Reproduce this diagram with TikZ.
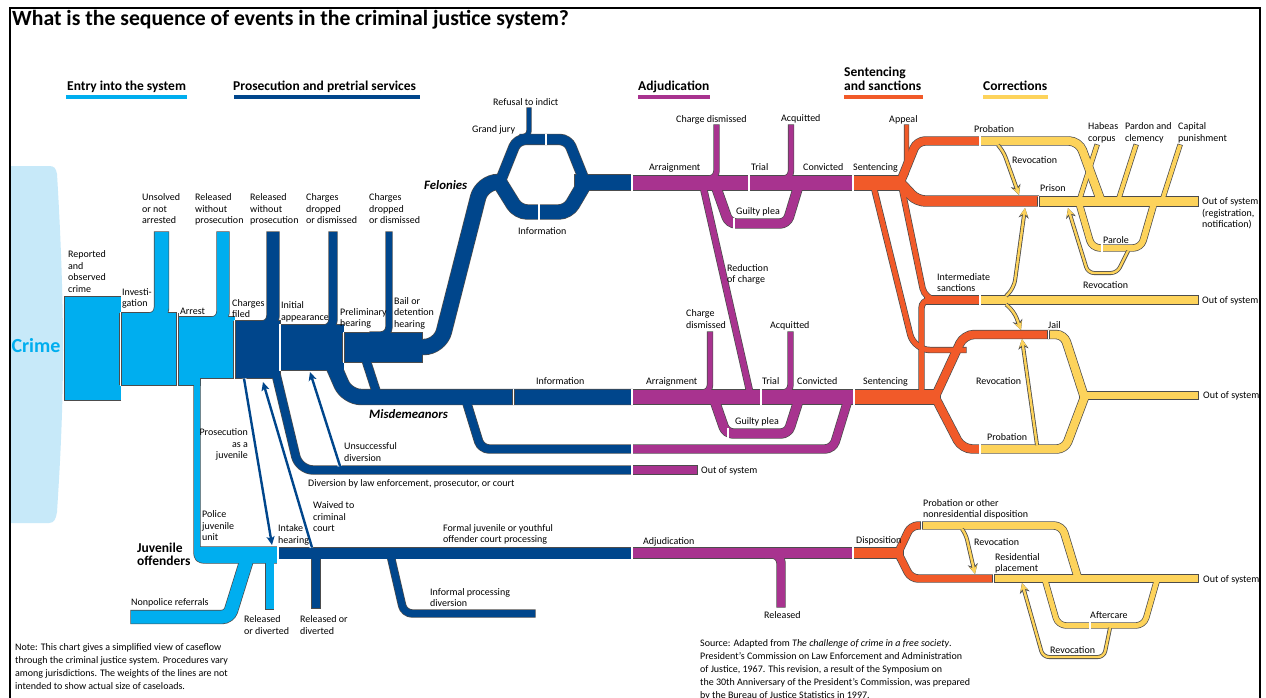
\documentclass[tikz,border=0pt]{standalone}
\usepackage{fontspec}
\setmainfont{Carlito}
\usetikzlibrary{arrows.meta}
\definecolor{cyanb}{RGB}{0,174,239}
\definecolor{navy}{RGB}{0,70,140}
\definecolor{mag}{RGB}{168,51,143}
\definecolor{orng}{RGB}{241,90,41}
\definecolor{yel}{RGB}{253,211,91}
\definecolor{pale}{RGB}{199,233,249}
\colorlet{edgec}{black!70}
\pgfdeclarelayer{bg}
\pgfdeclarelayer{edge}
\pgfsetlayers{bg,edge,main}
\newcommand\band[4][]{%
  \begin{pgfonlayer}{edge}\draw[#1,line width=#2+1.4,draw=edgec,shorten <=-0.7pt,shorten >=-0.7pt] #4;\end{pgfonlayer}%
  \draw[#1,line width=#2,draw=#3] #4;}
\newcommand\blk[2]{%
  \begin{pgfonlayer}{edge}\filldraw[edgec,line width=1.4] #2;\end{pgfonlayer}%
  \fill[#1] #2;}
\newcommand\sepr[3]{\draw[edgec,line width=2.6] (#1,#2)--(#1,#3); \draw[white,line width=1.2] (#1,#2-0.8)--(#1,#3+0.8);}
\tikzset{
  lab/.style={anchor=north west, inner sep=0pt, align=left, font=\fontsize{10}{11.6}\selectfont},
  bl/.style={anchor=base west, inner sep=0pt, font=\fontsize{10}{11.6}\selectfont},
  hdr/.style={anchor=base west, inner sep=0pt, font=\bfseries\fontsize{13.5}{13.5}\selectfont},
  bi/.style={anchor=base west, inner sep=0pt, font=\bfseries\itshape\fontsize{12.8}{12.8}\selectfont},
  yarr/.style={draw=yel, line width=2.4, -{Stealth[length=8pt,width=7.5pt,inset=2.5pt]},
    preaction={draw=edgec, line width=4, -{Stealth[length=10pt,width=10pt,inset=3pt]}}},
  narr/.style={draw=navy, line width=2.4, -{Stealth[length=8.5pt,width=8pt,inset=2pt]},
    preaction={draw=white, line width=4.6, -{Stealth[length=11pt,width=11pt,inset=2.5pt]}}}
}
\newcommand\lbl[4][]{\node[lab,#1] at (#2,#3-8) {\rule{0pt}{8pt}#4};}
\begin{document}
\begin{tikzpicture}[x=1pt,y=-1pt]
\useasboundingbox (0,0) rectangle (1266,698);
\begin{pgfonlayer}{bg}
\fill[white] (0,0) rectangle (1266,698);
\fill[pale] (10,166) -- (49,166) .. controls (54,166) and (56,168) .. (57,174)
  .. controls (61,240) and (63,300) .. (63,350) .. controls (63,420) and (59,480) .. (57,512)
  .. controls (56,519) and (54,523) .. (49,523) -- (10,523) -- cycle;
\end{pgfonlayer}
% frame and title
\draw[line width=1.4] (10,702) -- (10,8) -- (1260,8) -- (1260,702);
\node[anchor=base west, inner sep=0pt, font=\bfseries\fontsize{21.7}{24}\selectfont] (title) at (12,26) {What is the sequence of events in the criminal justice system?};
% headers
\node[hdr] (h1) at (67,90.5) {Entry into the system};
\node[hdr] (h2) at (233,90.5) {Prosecution and pretrial services};
\node[hdr] (h3) at (638,90.5) {Adjudication};
\node[hdr] (h4a) at (844,77) {Sentencing};
\node[hdr] (h4b) at (844,90.5) {and sanctions};
\node[hdr] (h5) at (983,90.5) {Corrections};
\fill[cyanb] (66,95.5) rectangle (187,99.5);
\fill[navy] (234,95.5) rectangle (420,99.5);
\fill[mag] (638,95.5) rectangle (710,99.5);
\fill[orng] (844,95.5) rectangle (923,99.5);
\fill[yel] (983,95.5) rectangle (1048,99.5);
\node[inner sep=0pt, font=\bfseries\fontsize{20}{20}\selectfont, text=cyanb] (crime) at (36,346) {Crime};

% ---------- light blue: entry ----------
\blk{cyanb}{(65,297) rectangle (120.5,400)}
\blk{cyanb}{(120.5,313) rectangle (177.5,385)}
\blk{cyanb}{(177.5,317) rectangle (234.5,378)}
\blk{cyanb}{(177.5,377) rectangle (200,385)}
\band[rounded corners=12]{14}{cyanb}{(161.5,232) -- (161.5,320) -- (135,320)}
\band[rounded corners=11]{12}{cyanb}{(223,232) -- (223,323) -- (200,323)}
\blk{cyanb}{(194,380) -- (194,551) .. controls (194,560) and (197,563) .. (206,563) -- (278,563) -- (278,547) -- (200,547) -- (200,380) -- cycle}
\band[rounded corners=7]{13}{cyanb}{(131,617) -- (229,617) -- (248,556)}
\band{8}{cyanb}{(269.5,560) -- (269.5,609)}

% ---------- dark blue: prosecution ----------
\blk{navy}{(234.5,321) rectangle (280,378)}
\band[rounded corners=11]{12}{navy}{(273,232) -- (273,327) -- (250,327)}
\blk{navy}{(280,325) rectangle (343.5,370)}
\band[rounded corners=9]{8}{navy}{(333,232) -- (333,329) -- (310,329)}
\blk{navy}{(343.5,333) rectangle (422,362)}
\band[rounded corners=8]{6}{navy}{(389,232) -- (389,335) -- (370,335)}
\band[rounded corners=16]{15}{navy}{(400,347) -- (440,347) -- (482,182) -- (506,182)}
\band[rounded corners=8]{10}{navy}{(500,182) -- (517,139.5) -- (568,139.5) -- (585,182)}
\band[rounded corners=9]{14}{navy}{(500,183) -- (518,212) -- (568,212) -- (585,183)}
\band{15}{navy}{(575,182.5) -- (632,182.5)}
\band[rounded corners=6]{4}{navy}{(529,108) -- (529,136.5) -- (520,136.5)}
\band[rounded corners=14]{15}{navy}{(330,358) -- (347,397) -- (632,397)}
\band{8}{navy}{(366,360) -- (377,394)}
\band[rounded corners=8]{8}{navy}{(465,397) -- (481,449) -- (632,449)}
\band[rounded corners=14]{8}{navy}{(276,374) -- (299,470) -- (632,470)}
\band{11}{navy}{(278,553) -- (632,553)}
\band{8}{navy}{(316,553) -- (316,608)}
\band[rounded corners=8]{7}{navy}{(390,553) -- (404,613.5) -- (535,613.5)}

% ---------- magenta: adjudication ----------
\band{14}{mag}{(632,183) -- (853,183)}
\band[rounded corners=7.5]{5}{mag}{(716.5,125) -- (716.5,178.5) -- (700,178.5)}
\band[rounded corners=7.5]{5}{mag}{(791,125) -- (791,178.5) -- (775,178.5)}
\band[rounded corners=7]{9}{mag}{(715,184) -- (729,223.5) -- (787,223.5) -- (799,184)}
\band{6}{mag}{(703,186) -- (750,393)}
\band{14}{mag}{(632,397) -- (854,397)}
\band[rounded corners=7.5]{5}{mag}{(710,332) -- (710,392.5) -- (695,392.5)}
\band[rounded corners=7.5]{5}{mag}{(790.5,332) -- (790.5,392.5) -- (775,392.5)}
\band[rounded corners=7]{9}{mag}{(714,399) -- (726,433.5) -- (788,433.5) -- (799,399)}
\band[rounded corners=8]{8}{mag}{(632,449) -- (833,449) -- (848,400)}
\band{8}{mag}{(632,470) -- (697,470)}
\band{10}{mag}{(632,553) -- (853,553)}
\band[rounded corners=9]{8}{mag}{(765,554) -- (781,554) -- (781,607)}

% ---------- orange: sentencing ----------
\band{14}{orng}{(853,183) -- (905,183)}
\band[rounded corners=7]{4}{orng}{(906.5,125) -- (906.5,178) -- (890,178)}
\band[rounded corners=8]{8}{orng}{(900,183) -- (917,141) -- (980,141)}
\band[rounded corners=8]{10}{orng}{(900,183) -- (917,201) -- (1038.5,201)}
\band[rounded corners=16]{5}{orng}{(873,184) -- (914,350) -- (966,350)}
\band[rounded corners=12]{5}{orng}{(901,184) -- (925,300) -- (950,300)}
\band{8}{orng}{(925,300) -- (980,300)}
\band[rounded corners=8]{5}{orng}{(921.5,397) -- (921.5,300) -- (940,300)}
\band{14}{orng}{(854,397) -- (940,397)}
\band[rounded corners=10]{8}{orng}{(935,397) -- (964,334.5) -- (1048.5,334.5)}
\band[rounded corners=10]{8}{orng}{(935,397) -- (962,449) -- (980,449)}
\band{10}{orng}{(853,553) -- (903,553)}
\band[rounded corners=7]{7}{orng}{(898,553) -- (911,525.5) -- (921.5,525.5)}
\band[rounded corners=7]{7}{orng}{(898,553) -- (911,578.5) -- (993.5,578.5)}

% ---------- yellow: corrections ----------
\band[rounded corners=10]{8}{yel}{(980,141) -- (1079,141) -- (1101,201)}
\band{9}{yel}{(1038.5,201.5) -- (1198,201.5)}
\band{4}{yel}{(1079,201) -- (1097,145)}
\band{4}{yel}{(1118,201) -- (1136,145)}
\band{4}{yel}{(1162,201) -- (1180,145)}
\band[rounded corners=8]{6}{yel}{(1079,203) -- (1092,248) -- (1141,248) -- (1154,203)}
\band{8}{yel}{(980,300) -- (1198,300)}
\band[rounded corners=8]{8}{yel}{(1048.5,334.5) -- (1064,334.5) -- (1084,396)}
\band{7}{yel}{(1080,395.5) -- (1198,395.5)}
\band[rounded corners=8]{8}{yel}{(980,449) -- (1065,449) -- (1085,396)}
\band[rounded corners=8]{7}{yel}{(921.5,525.5) -- (1062,525.5) -- (1078,578)}
\band{7}{yel}{(993.5,578.5) -- (1198,578.5)}
\band[rounded corners=8]{5}{yel}{(1045,580) -- (1058,625.5) -- (1144,625.5) -- (1157,580)}

% ---------- separators ----------
\sepr{120.5}{313}{385}
\sepr{177.5}{313}{385}
\sepr{234.5}{321}{378}
\sepr{280}{325}{370}
\sepr{343.5}{333}{362}
\sepr{546}{134.5}{144.5}
\sepr{539}{205}{219}
\sepr{632}{175}{190}
\sepr{513.5}{389.5}{404.5}
\sepr{632}{389.5}{404.5}
\sepr{632}{445}{453}
\sepr{632}{466}{474}
\sepr{632}{547.5}{558.5}
\sepr{278}{547}{563}
\sepr{749}{176}{190}
\sepr{761}{390}{404}
\sepr{734}{219}{228}
\sepr{728}{429}{438}
\sepr{853}{176}{190}
\sepr{854}{390}{404}
\sepr{853}{548}{558}
\sepr{980}{137}{145}
\sepr{1038.5}{197}{206}
\sepr{980}{296}{304}
\sepr{1048.5}{330.5}{338.5}
\sepr{980}{445}{453}
\sepr{921.5}{522}{529}
\sepr{993.5}{575}{582}
\sepr{1102}{245}{251}
\sepr{1090}{623}{628}

% ---------- arrows ----------
\draw[narr] (244,378.5) -- (272,545);
\draw[narr] (312,547.5) -- (263,382);
\draw[narr] (340,466) -- (310,372);
\draw[yarr, rounded corners=5] (998,145) -- (1004,153) -- (1019,195);
\draw[yarr, rounded corners=6] (1128,251) -- (1117,273) -- (1088,273) -- (1068,208);
\draw[yarr, rounded corners=8] (1006,296) -- (1014,288) -- (1025,208);
\draw[yarr, rounded corners=8] (1006,304.5) -- (1014,311) -- (1021,330);
\draw[yarr] (1037,445) -- (1022,339);
\draw[yarr, rounded corners=5] (962,529) -- (966,535) -- (975,574);
\draw[yarr, rounded corners=6] (1110,628) -- (1104,657) -- (1043,657) -- (1022,583);

% ---------- labels ----------
\lbl{142}{200.5}{Unsolved\\or not\\arrested}
\lbl{195}{200.5}{Released\\without\\prosecution}
\lbl{250}{200.5}{Released\\without\\prosecution}
\lbl{306}{200.5}{Charges\\dropped\\or dismissed}
\lbl{369}{200.5}{Charges\\dropped\\or dismissed}
\lbl{68}{257.5}{Reported\\and\\observed\\crime}
\lbl{122}{295}{Investi-\\gation}
\lbl{180}{314}{Arrest}
\lbl{232}{306}{Charges\\filed}
\lbl{281}{308.5}{Initial\\appearance}
\lbl{340}{315}{Preliminary\\hearing}
\lbl{394}{304}{Bail or\\detention\\hearing}
\lbl{493}{105}{Refusal to indict}
\lbl{472}{132.5}{Grand jury}
\lbl{518}{234.5}{Information}
\lbl{536}{384.5}{Information}
\lbl{344}{449.5}{Unsuccessful\\diversion}
\lbl{308}{486}{Diversion by law enforcement, prosecutor, or court}
\lbl[anchor=north east,align=right]{248}{435.5}{Prosecution\\as a\\juvenile}
\lbl{202}{517.5}{Police\\juvenile\\unit}
\lbl{278}{531.5}{Intake\\hearing}
\lbl{313}{508.5}{Waived to\\criminal\\court}
\lbl{131}{605.5}{Nonpolice referrals}
\lbl{244}{622.5}{Released\\or diverted}
\lbl{300}{622.5}{Released or\\diverted}
\lbl{443}{531}{Formal juvenile or youthful\\offender court processing}
\lbl{430}{595}{Informal processing\\diversion}
\lbl{676}{122}{Charge dismissed}
\lbl{781}{121.5}{Acquitted}
\lbl{889}{122}{Appeal}
\lbl{649}{170.5}{Arraignment}
\lbl{751}{170.5}{Trial}
\lbl{803}{170.5}{Convicted}
\lbl{853}{170.5}{Sentencing}
\lbl{736}{214.5}{Guilty plea}
\lbl{727}{271}{Reduction\\of charge}
\lbl{686}{316.5}{Charge\\dismissed}
\lbl{770}{328}{Acquitted}
\lbl{646}{384.5}{Arraignment}
\lbl{762}{384.5}{Trial}
\lbl{797}{384.5}{Convicted}
\lbl{863}{384.5}{Sentencing}
\lbl{735}{424.5}{Guilty plea}
\lbl{701}{473.5}{Out of system}
\lbl{643}{544.5}{Adjudication}
\lbl{764}{618.5}{Released}
\lbl{856}{543.5}{Disposition}
\lbl{923}{505.8}{Probation or other\\nonresidential disposition}
\lbl{974}{545}{Revocation}
\lbl{995}{560}{Residential\\placement}
\lbl{1203}{582}{Out of system}
\lbl{1090}{618.5}{Aftercare}
\lbl{1050}{653}{Revocation}
\lbl{974}{132.5}{Probation}
\lbl{1012}{163.5}{Revocation}
\lbl{1088}{129.5}{Habeas\\corpus}
\lbl{1125}{129.5}{Pardon and\\clemency}
\lbl{1178}{129.5}{Capital\\punishment}
\lbl{1040}{191}{Prison}
\lbl{1202}{204.5}{Out of system\\(registration,\\notification)}
\lbl{1103}{243}{Parole}
\lbl{1083}{288}{Revocation}
\lbl{937}{280}{Intermediate\\sanctions}
\lbl{1202}{303.5}{Out of system}
\lbl{1048}{328.5}{Jail}
\lbl{976}{384.5}{Revocation}
\lbl{1203}{398.5}{Out of system}
\lbl{987}{440}{Probation}
\node[bi] (fel) at (424,189) {Felonies};
\node[bi] (mis) at (369,418) {Misdemeanors};
\node[hdr] (juv1) at (137,552.5) {Juvenile};
\node[hdr] (juv2) at (137,565.2) {offenders};
% note and source
\node[bl] (n1) at (15,650) {Note: This chart gives a simplified view of caseflow};
\node[bl] (n2) at (15,663) {through the criminal justice system. Procedures vary};
\node[bl] (n3) at (15,676) {among jurisdictions. The weights of the lines are not};
\node[bl] (n4) at (15,689) {intended to show actual size of caseloads.};
\node[bl] (s1) at (700,646) {Source: Adapted from \textit{The challenge of crime in a free society}.};
\node[bl] (s2) at (700,659) {President's Commission on Law Enforcement and Administration};
\node[bl] (s3) at (700,672) {of Justice, 1967. This revision, a result of the Symposium on};
\node[bl] (s4) at (700,685) {the 30th Anniversary of the President's Commission, was prepared};
\node[bl] (s5) at (700,698) {by the Bureau of Justice Statistics in 1997.};
\end{tikzpicture}
\end{document}
